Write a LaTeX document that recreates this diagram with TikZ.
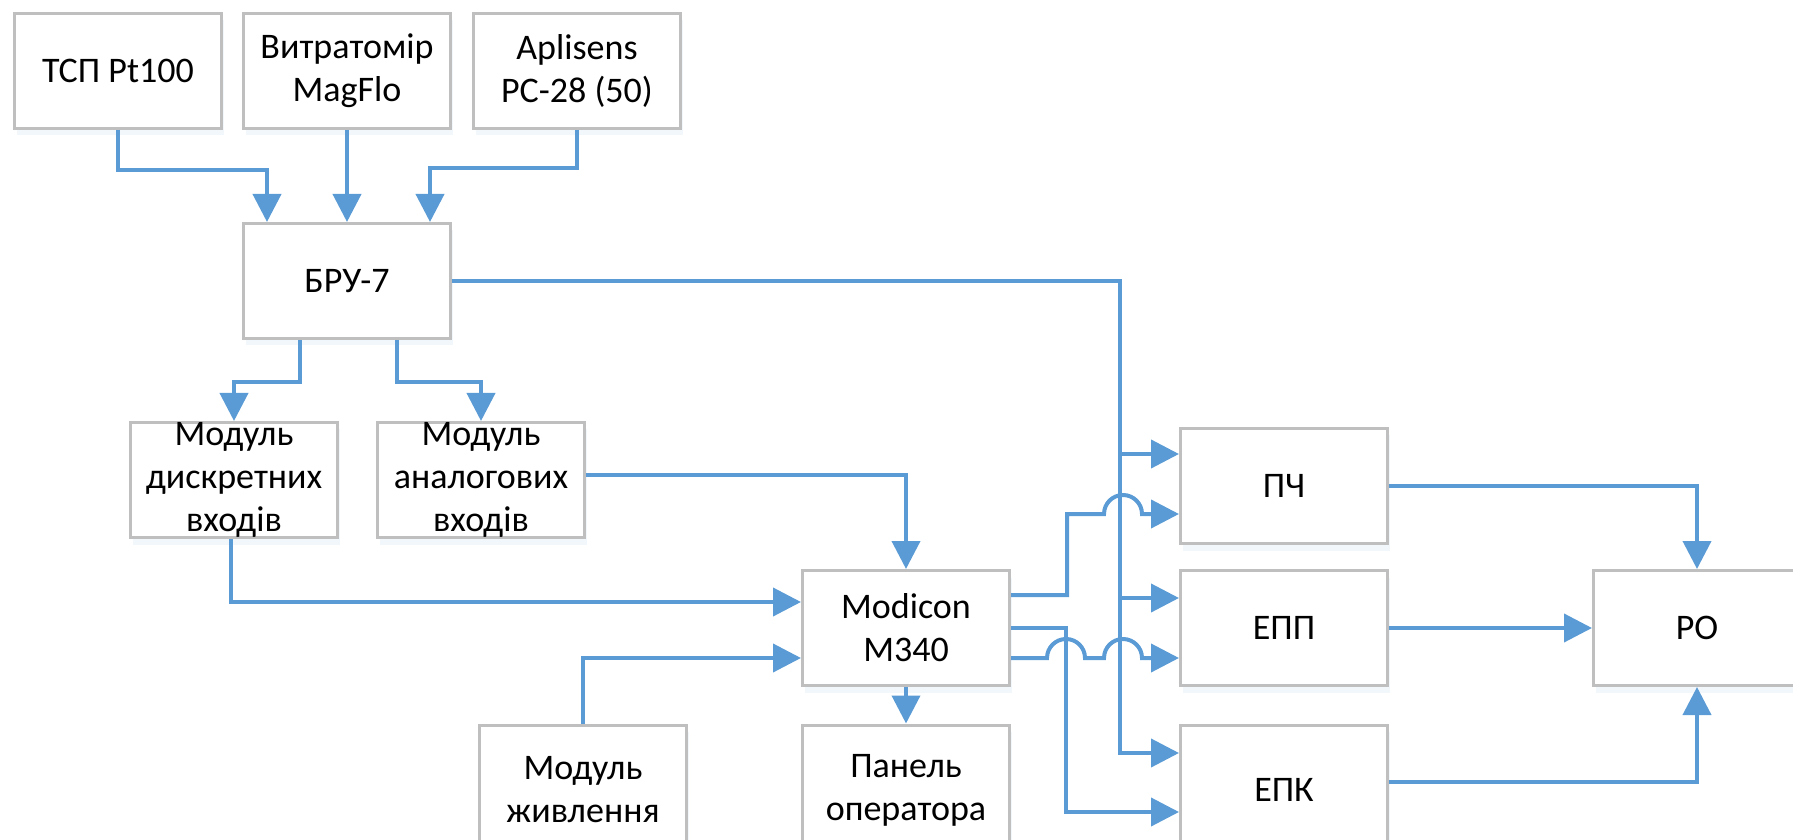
\documentclass[tikz,border=0pt]{standalone}
\usepackage{fontspec}
\setmainfont{Carlito}
\usetikzlibrary{arrows.meta,shadows}
\definecolor{lineblue}{HTML}{5B9BD5}
\definecolor{boxgray}{HTML}{BFBFBF}
\tikzset{
  basic box/.style = {
    shape = rectangle,
    align = center,
    draw  = boxgray,
    fill  = white,
    line width = 3pt,
    inner sep = 0pt,
    minimum width = 207pt,
    minimum height = #1,
    drop shadow = {shadow xshift = 2pt, shadow yshift = -7pt, opacity = 0.08, fill = lineblue}},
  basic box/.default = 115pt,
  wire/.style = {->, draw = lineblue, line width = 4pt}
}

\begin{document}
\begin{tikzpicture}[x = 1pt, y = 1pt, nodes = {align = center, font = \fontsize{36pt}{43pt}\selectfont}, >={Triangle[length=28pt, width=28pt]}]
  \useasboundingbox (0,0) rectangle (1793,839);
  % sensors and control unit
  \node[basic box] (tsp)      at (118,768) {ТСП Pt100};
  \node[basic box] (flow)     at (347,768) {Витратомір\\MagFlo};
  \node[basic box] (aplisens) at (577,768) {Aplisens\\PC-28 (50)};
  \node[basic box] (bru)      at (347,558) {БРУ-7};
  % controller and modules
  \node[basic box] (discr)   at (234,359) {Модуль\\дискретних\\входів};
  \node[basic box] (analog)  at (481,359) {Модуль\\аналогових\\входів};
  \node[basic box] (modicon) at (906,211) {Modicon\\M340};
  \node[basic box = 130pt] (power) at (583,49) {Модуль\\живлення};
  \node[basic box = 130pt] (panel) at (906,49) {Панель\\оператора};
  % actuators
  \node[basic box] (pch) at (1284,353) {ПЧ};
  \node[basic box] (epp) at (1284,211) {ЕПП};
  \node[basic box = 130pt] (epk) at (1284,49) {ЕПК};
  \node[basic box] (ro)  at (1697,211) {РО};

  \draw[wire] (tsp.south) -- ++(0,-40) -| ([xshift=-80pt]bru.north);
  \draw[wire] (flow) -- (bru);
  \draw[wire] (aplisens.south) -- ++(0,-38) -| ([xshift=83pt]bru.north);
  \draw[wire] ([xshift=-47pt]bru.south) -- ++(0,-42) -| (discr.north);
  \draw[wire] ([xshift=50pt]bru.south) -- ++(0,-42) -| (analog.north);
  \draw[wire] ([xshift=-3pt]discr.south) |- ([yshift=26pt]modicon.west);
  \draw[wire] ([yshift=5pt]analog.east) -| (modicon.north);
  \draw[wire] (power.north) |- ([yshift=-30pt]modicon.west);
  \draw[wire] (modicon) -- (panel);
  % bus from БРУ-7
  \draw[wire] (bru.east) -| ([xshift=-59pt, yshift=37pt]epk.west) -- ([yshift=37pt]epk.west);
  \draw[wire] ([xshift=-59pt, yshift=32pt]pch.west) -- ([yshift=32pt]pch.west);
  \draw[wire] ([xshift=-59pt, yshift=30pt]epp.west) -- ([yshift=30pt]epp.west);
  % controller outputs, with line jumps
  \draw[wire] ([yshift=33pt]modicon.east) -- ++(56,0) -- ++(0,81) -- ++(37,0)
    arc[start angle=180, end angle=0, radius=19] -- ([yshift=-28pt]pch.west);
  \draw[wire] (modicon.east) -- ++(55,0) |- ([yshift=-22pt]epk.west);
  \draw[wire] ([yshift=-30pt]modicon.east) -- ++(36,0) arc[start angle=180, end angle=0, radius=19]
    -- ++(19,0) arc[start angle=180, end angle=0, radius=19] -- ([yshift=-30pt]epp.west);
  \draw[wire] (pch.east) -| (ro.north);
  \draw[wire] (epp) -- (ro);
  \draw[wire] ([yshift=8pt]epk.east) -| (ro.south);
\end{tikzpicture}
\end{document}
